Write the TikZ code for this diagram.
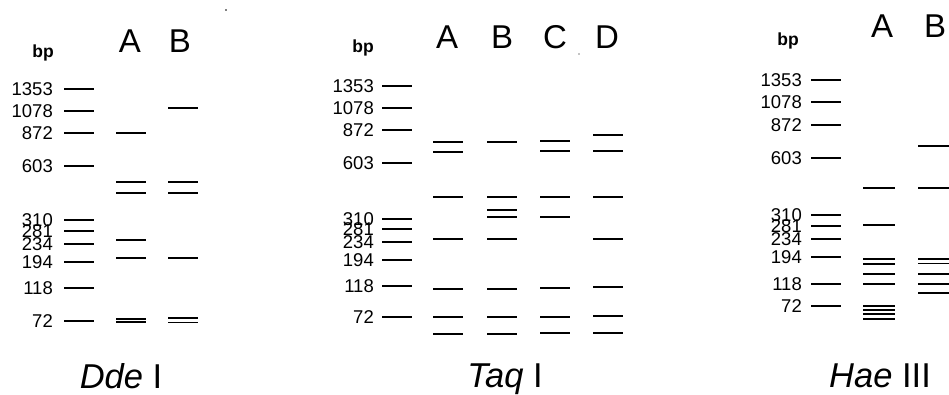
\documentclass[tikz,border=0pt]{standalone}
\usepackage{fontspec}
\setmainfont{Liberation Sans}
\begin{document}
\begin{tikzpicture}[x=1pt,y=-1pt,
  band/.style={line width=1.4pt},
  num/.style={anchor=east,inner sep=0pt,font=\fontsize{18.5}{18.5}\selectfont},
  lanelbl/.style={anchor=base,inner sep=0pt,font=\fontsize{33}{33}\selectfont},
  bplbl/.style={anchor=base,inner sep=0pt,font=\bfseries\fontsize{17.5}{17.5}\selectfont},
  ttl/.style={anchor=base,inner sep=0pt,font=\fontsize{34.5}{34.5}\selectfont}]
\useasboundingbox (0,0) rectangle (949,394);
% specks
\fill (226,10) circle (0.8);
\fill (579,54) circle (0.6);

%% ---------- Panel 1: Dde I ----------
\node[bplbl] (bp1) at (43,57) {bp};
\node[lanelbl] (l1a) at (130,52) {A};
\node[lanelbl] (l1b) at (180,52) {B};
\foreach \v/\y [count=\i] in {1353/89,1078/111,872/133,603/166,310/220,281/231,234/244,194/262,118/288,72/321}{
  \node[num] (p1n\i) at (53,\y) {\v};
  \draw[band] (64,\y) -- (94,\y);
}
\foreach \y in {133,182,193,240,258,319,322} \draw[band] (116,\y) -- (146,\y);
\foreach \y in {108,182,193,258,318,322.5} \draw[band] (168,\y) -- (198,\y);
\node[ttl] (t1) at (121,388) {\textit{Dde} I};

%% ---------- Panel 2: Taq I ----------
\node[bplbl] (bp2) at (363,52) {bp};
\node[lanelbl] (l2a) at (447,48) {A};
\node[lanelbl] (l2b) at (502,48) {B};
\node[lanelbl] (l2c) at (555,48) {C};
\node[lanelbl] (l2d) at (607,48) {D};
\foreach \v/\y [count=\i] in {1353/86,1078/108,872/130,603/163,310/219,281/229,234/242,194/260,118/286,72/317}{
  \node[num] (p2n\i) at (374,\y) {\v};
  \draw[band] (382,\y) -- (412,\y);
}
\foreach \y in {142,152,197,239,289,317,334} \draw[band] (433,\y) -- (463,\y);
\foreach \y in {142,197,210,217,239,289,317,334} \draw[band] (487,\y) -- (517,\y);
\foreach \y in {141,151,197,217,288,317,333} \draw[band] (540,\y) -- (570,\y);
\foreach \y in {135,151,197,239,287,316,333} \draw[band] (593,\y) -- (623,\y);
\node[ttl] (t2) at (505,387) {\textit{Taq} I};

%% ---------- Panel 3: Hae III ----------
\node[bplbl] (bp3) at (788,45) {bp};
\node[lanelbl] (l3a) at (882,37) {A};
\node[lanelbl] (l3b) at (935,37) {B};
\foreach \v/\y [count=\i] in {1353/80,1078/102,872/125,603/158,310/215,281/226,234/239,194/257,118/284,72/306}{
  \node[num] (p3n\i) at (802,\y) {\v};
  \draw[band] (811,\y) -- (841,\y);
}
\foreach \y in {188,225,259,264,274,284,306,310,314,319} \draw[band] (863,\y) -- (895,\y);
\foreach \y in {146,188,259,263.5,274,284,293} \draw[band] (918,\y) -- (949,\y);
\node[ttl] (t3) at (880,387) {\textit{Hae} III};
\end{tikzpicture}
\end{document}
